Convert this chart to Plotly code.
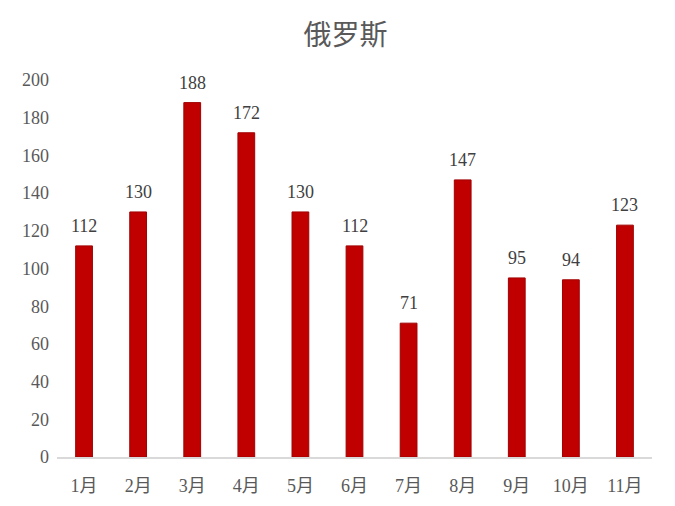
import plotly.graph_objects as go

months = ["1月", "2月", "3月", "4月", "5月", "6月", "7月", "8月", "9月", "10月", "11月"]
values = [112, 130, 188, 172, 130, 112, 71, 147, 95, 94, 123]
y_ticks = [0, 20, 40, 60, 80, 100, 120, 140, 160, 180, 200]

font_family = "'Liberation Serif', 'Noto Sans CJK SC', serif"

fig = go.Figure(
    go.Bar(
        x=months,
        y=values,
        cliponaxis=False,
        marker=dict(color="#C00000", line=dict(color="#A00000", width=1)),
    )
)

# value labels above bars
for m, v in zip(months, values):
    fig.add_annotation(
        x=m, y=v, text=str(v),
        showarrow=False,
        yanchor="bottom",
        yshift=8,
        font=dict(family=font_family, size=18, color="#404040"),
    )

fig.update_layout(
    width=675,
    height=506,
    margin=dict(l=49, r=31, t=72, b=57),
    paper_bgcolor="white",
    plot_bgcolor="white",
    bargap=0.69,
    showlegend=False,
    title=dict(
        text="俄罗斯",
        x=0.5,
        xanchor="center",
        y=0.947,
        yanchor="middle",
        font=dict(family=font_family, size=28, color="#595959"),
    ),
    font=dict(family=font_family, size=18, color="#595959"),
)

fig.update_xaxes(
    showline=True,
    linecolor="#D9D9D9",
    linewidth=1.5,
    ticks="",
    showgrid=False,
    ticklabelstandoff=12,
    tickfont=dict(family=font_family, size=18, color="#595959"),
)
fig.update_yaxes(
    range=[0, 200],
    tickvals=y_ticks,
    showgrid=False,
    zeroline=False,
    showline=False,
    ticks="",
    ticklabelstandoff=7,
    tickfont=dict(family=font_family, size=18, color="#595959"),
)

fig.write_html("out.html")
